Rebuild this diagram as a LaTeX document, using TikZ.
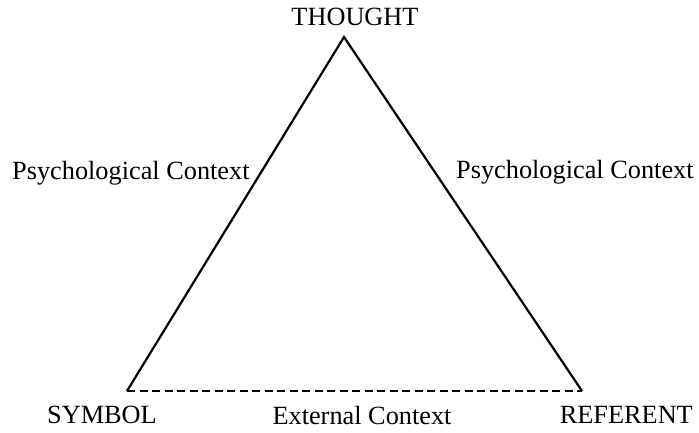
\documentclass[tikz,border=0pt]{standalone}
\usepackage{fontspec}
\setmainfont{Liberation Serif}
\begin{document}
\begin{tikzpicture}[x=1pt,y=1pt,
  lbl/.style={inner sep=0pt, font=\fontsize{26.3}{31}\selectfont},
  side/.style={line width=2.2pt, line join=miter},
  ext/.style={line width=2pt, dash pattern=on 8pt off 4.5pt}]
\useasboundingbox (0,0) rectangle (699,432);
% corners of the triangle
\coordinate (top) at (344,395);
\coordinate (sym) at (127,41);
\coordinate (ref) at (582,41);
% sides
\draw[side] (sym) -- (top) -- (ref);
\draw[ext] (sym) -- (ref);
% labels
\node[lbl, anchor=base] (thought) at (355,406) {THOUGHT};
\node[lbl, anchor=base west] (symbol) at (47,9) {SYMBOL};
\node[lbl, anchor=base east] (referent) at (693,9) {REFERENT};
\node[lbl, anchor=base] (external) at (362,8) {External Context};
\node[lbl, anchor=base west] (psyL) at (12,253) {Psychological Context};
\node[lbl, anchor=base west] (psyR) at (456,254) {Psychological Context};
\end{tikzpicture}
\end{document}
